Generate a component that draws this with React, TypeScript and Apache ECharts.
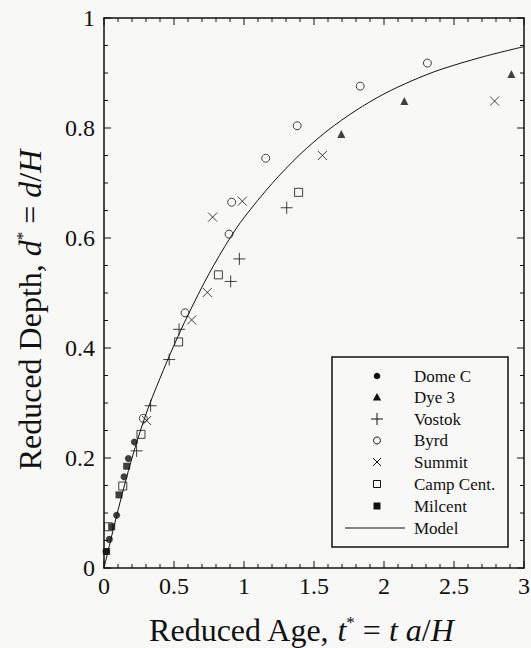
import React, { useEffect, useRef } from "react";
import * as echarts from "echarts";

// ---- Data ----
const X_TICKS = [0, 0.5, 1, 1.5, 2, 2.5, 3];
const Y_TICKS = [0, 0.2, 0.4, 0.6, 0.8, 1];
const X_MINOR_PER_MAJOR = 5;
const Y_MINOR_PER_MAJOR = 4;

const domeC_t = [0.014, 0.038, 0.09, 0.143, 0.174, 0.217];
const domeC_d = [0.03, 0.052, 0.096, 0.166, 0.199, 0.229];

const dye3_t = [1.695, 2.145, 2.91];
const dye3_d = [0.789, 0.849, 0.898];

const vostok_t = [0.233, 0.333, 0.466, 0.536, 0.905, 0.967, 1.305];
const vostok_d = [0.213, 0.295, 0.379, 0.434, 0.521, 0.562, 0.655];

const byrd_t = [0.281, 0.579, 0.893, 0.912, 1.155, 1.38, 1.83, 2.31];
const byrd_d = [0.272, 0.464, 0.607, 0.665, 0.745, 0.804, 0.876, 0.918];

const summit_t = [0.305, 0.626, 0.738, 0.776, 0.988, 1.56, 2.79];
const summit_d = [0.268, 0.451, 0.501, 0.638, 0.667, 0.75, 0.849];

const campCent_t = [0.031, 0.134, 0.264, 0.533, 0.817, 1.39];
const campCent_d = [0.075, 0.149, 0.243, 0.411, 0.533, 0.683];

const milcent_t = [0.019, 0.055, 0.107, 0.162];
const milcent_d = [0.03, 0.075, 0.133, 0.185];

const model_t = [0, 0.1, 0.2, 0.3, 0.4, 0.5, 0.6, 0.75, 0.9, 1.0, 1.2, 1.4, 1.6, 1.8, 2.0, 2.2, 2.4, 2.7, 3.0];
const model_d = [0, 0.105, 0.2, 0.28, 0.345, 0.405, 0.46, 0.535, 0.6, 0.637, 0.699, 0.752, 0.796, 0.832, 0.862, 0.886, 0.906, 0.929, 0.948];

const LEGEND_NAMES = ["Dome C", "Dye 3", "Vostok", "Byrd", "Summit", "Camp Cent.", "Milcent", "Model"];

const X_TITLE = "Reduced Age, {i|t}{s|*} = {i|t a}/{i|H}";
const Y_TITLE = "Reduced Depth, {i|d}{s|*} = {i|d}/{i|H}";

const pairs = (a: number[], b: number[]) => a.map((v, i) => [v, b[i]]);

const BG = "#f8f8f6";
const INK = "#111";
const SERIF = '"Liberation Serif", "Times New Roman", serif';

const PLUS = "path://M0,5L10,5M5,0L5,10";
const CROSS = "path://M0,0L10,10M10,0L0,10";

const MAJOR_LEN = 7;
const MINOR_LEN = 4;

// tick values (major + minor) for the framed axes
function tickValues(ticks: number[], perMajor: number) {
  const out: { v: number; len: number }[] = [];
  const step = (ticks[1] - ticks[0]) / perMajor;
  const n = (ticks.length - 1) * perMajor;
  for (let i = 0; i <= n; i++) {
    out.push({ v: +(ticks[0] + i * step).toFixed(6), len: i % perMajor === 0 ? MAJOR_LEN : MINOR_LEN });
  }
  return out;
}

export default function App() {
  const ref = useRef<HTMLDivElement>(null);
  useEffect(() => {
    if (!ref.current) return;
    const chart = echarts.init(ref.current, undefined, { renderer: "svg" });

    const xMin = X_TICKS[0];
    const xMax = X_TICKS[X_TICKS.length - 1];
    const xInt = X_TICKS[1] - X_TICKS[0];
    const yMin = Y_TICKS[0];
    const yMax = Y_TICKS[Y_TICKS.length - 1];
    const yInt = Y_TICKS[1] - Y_TICKS[0];

    const makeAxis = (position: string, min: number, max: number, interval: number, labels: boolean, margin: number) => ({
      type: "value",
      position,
      min,
      max,
      interval,
      axisLine: { show: true, onZero: false, lineStyle: { color: INK, width: 1.5 } },
      axisTick: { show: false },
      minorTick: { show: false },
      splitLine: { show: false },
      axisLabel: labels
        ? { show: true, fontFamily: SERIF, fontSize: 24, color: INK, margin, showMinLabel: true, showMaxLabel: true }
        : { show: false },
    });

    const TITLE_SIZE = 32;
    const nameRich = {
      i: { fontFamily: SERIF, fontSize: TITLE_SIZE, fontStyle: "italic", color: INK },
      s: { fontFamily: SERIF, fontSize: 17, color: INK, padding: [0, 0, 16, 0] },
    };

    const scatterBase = (name: string, data: number[][], symbol: string, size: number, filled: boolean) => ({
      type: "scatter",
      name,
      data,
      symbol,
      symbolSize: size,
      itemStyle: filled
        ? { color: INK, borderWidth: 0 }
        : { color: "rgba(0,0,0,0)", borderColor: INK, borderWidth: 1 },
    });

    // legend (drawn as graphics)
    const lx = 377;
    const tx = 414;
    const rows = [376, 397.5, 419, 440.5, 462, 484, 506, 528];
    const g: any[] = [
      {
        type: "rect",
        shape: { x: 332, y: 357, width: 176, height: 190 },
        style: { fill: BG, stroke: INK, lineWidth: 1.5 },
        z: 10,
      },
      { type: "circle", shape: { cx: lx, cy: rows[0], r: 3.3 }, style: { fill: INK }, z: 11 },
      {
        type: "polygon",
        shape: { points: [[lx, rows[1] - 4.5], [lx + 4.2, rows[1] + 3], [lx - 4.2, rows[1] + 3]] },
        style: { fill: INK },
        z: 11,
      },
      { type: "line", shape: { x1: lx - 6, y1: rows[2], x2: lx + 6, y2: rows[2] }, style: { stroke: INK, lineWidth: 1 }, z: 11 },
      { type: "line", shape: { x1: lx, y1: rows[2] - 6, x2: lx, y2: rows[2] + 6 }, style: { stroke: INK, lineWidth: 1 }, z: 11 },
      { type: "circle", shape: { cx: lx, cy: rows[3], r: 3.5 }, style: { fill: "none", stroke: INK, lineWidth: 1 }, z: 11 },
      { type: "line", shape: { x1: lx - 4, y1: rows[4] - 4, x2: lx + 4, y2: rows[4] + 4 }, style: { stroke: INK, lineWidth: 1 }, z: 11 },
      { type: "line", shape: { x1: lx + 4, y1: rows[4] - 4, x2: lx - 4, y2: rows[4] + 4 }, style: { stroke: INK, lineWidth: 1 }, z: 11 },
      { type: "rect", shape: { x: lx - 3.5, y: rows[5] - 3.5, width: 7, height: 7 }, style: { fill: "none", stroke: INK, lineWidth: 1 }, z: 11 },
      { type: "rect", shape: { x: lx - 3.5, y: rows[6] - 3.5, width: 7, height: 7 }, style: { fill: INK }, z: 11 },
      { type: "line", shape: { x1: 345, y1: rows[7], x2: 405, y2: rows[7] }, style: { stroke: INK, lineWidth: 1 }, z: 11 },
    ];
    LEGEND_NAMES.forEach((n, i) => {
      g.push({
        type: "text",
        x: tx,
        y: rows[i],
        z: 11,
        style: { text: n, fontFamily: SERIF, fontSize: 17, fill: INK, verticalAlign: "middle", align: "left" },
      });
    });
    // axis titles
    g.push({
      type: "text",
      x: 301,
      y: 630,
      z: 11,
      style: {
        text: X_TITLE, rich: nameRich, fontFamily: SERIF, fontSize: TITLE_SIZE,
        align: "center", verticalAlign: "middle", fill: INK,
      },
    });
    g.push({
      type: "text",
      x: 30,
      y: 310,
      rotation: Math.PI / 2,
      z: 11,
      style: {
        text: Y_TITLE, rich: nameRich, fontFamily: SERIF, fontSize: TITLE_SIZE,
        align: "center", verticalAlign: "middle", fill: INK,
      },
    });

    chart.setOption({
      animation: false,
      backgroundColor: BG,
      grid: { left: 104, top: 18, width: 420, height: 550, outerBoundsMode: "none" },
      xAxis: [
        makeAxis("bottom", xMin, xMax, xInt, true, 6),
        makeAxis("top", xMin, xMax, xInt, false, 6),
      ],
      yAxis: [
        makeAxis("left", yMin, yMax, yInt, true, 9),
        makeAxis("right", yMin, yMax, yInt, false, 9),
      ],
      series: [
        {
          type: "line",
          name: "Model",
          data: pairs(model_t, model_d),
          smooth: 0.3,
          showSymbol: false,
          symbol: "none",
          lineStyle: { color: INK, width: 1 },
        },
        scatterBase("Dome C", pairs(domeC_t, domeC_d), "circle", 7, true),
        scatterBase("Dye 3", pairs(dye3_t, dye3_d), "triangle", 8, true),
        scatterBase("Vostok", pairs(vostok_t, vostok_d), PLUS, 12, false),
        scatterBase("Byrd", pairs(byrd_t, byrd_d), "circle", 8, false),
        scatterBase("Summit", pairs(summit_t, summit_d), CROSS, 9, false),
        scatterBase("Camp Cent.", pairs(campCent_t, campCent_d), "rect", 8, false),
        scatterBase("Milcent", pairs(milcent_t, milcent_d), "rect", 7, true),
      ],
      graphic: g,
    });

    // inward ticks on all four sides, positioned through the axes' own scales
    const toPx = (p: number[]) => chart.convertToPixel({ gridIndex: 0 }, p) as number[];
    const tickEls: any[] = [];
    const line = (x1: number, y1: number, x2: number, y2: number) => ({
      type: "line",
      z: 12,
      silent: true,
      shape: { x1, y1, x2, y2 },
      style: { stroke: INK, lineWidth: 1 },
    });
    tickValues(X_TICKS, X_MINOR_PER_MAJOR).forEach(({ v, len }) => {
      const b = toPx([v, yMin]);
      const t = toPx([v, yMax]);
      if (b && t) {
        tickEls.push(line(b[0], b[1], b[0], b[1] - len));
        tickEls.push(line(t[0], t[1], t[0], t[1] + len));
      }
    });
    tickValues(Y_TICKS, Y_MINOR_PER_MAJOR).forEach(({ v, len }) => {
      const l = toPx([xMin, v]);
      const r = toPx([xMax, v]);
      if (l && r) {
        tickEls.push(line(l[0], l[1], l[0] + len, l[1]));
        tickEls.push(line(r[0], r[1], r[0] - len, r[1]));
      }
    });
    chart.setOption({ graphic: [...g, ...tickEls] });

    return () => chart.dispose();
  }, []);

  return (
    <div
      ref={ref}
      style={{ position: "fixed", left: 0, top: 0, width: 531, height: 648, background: BG }}
    />
  );
}
